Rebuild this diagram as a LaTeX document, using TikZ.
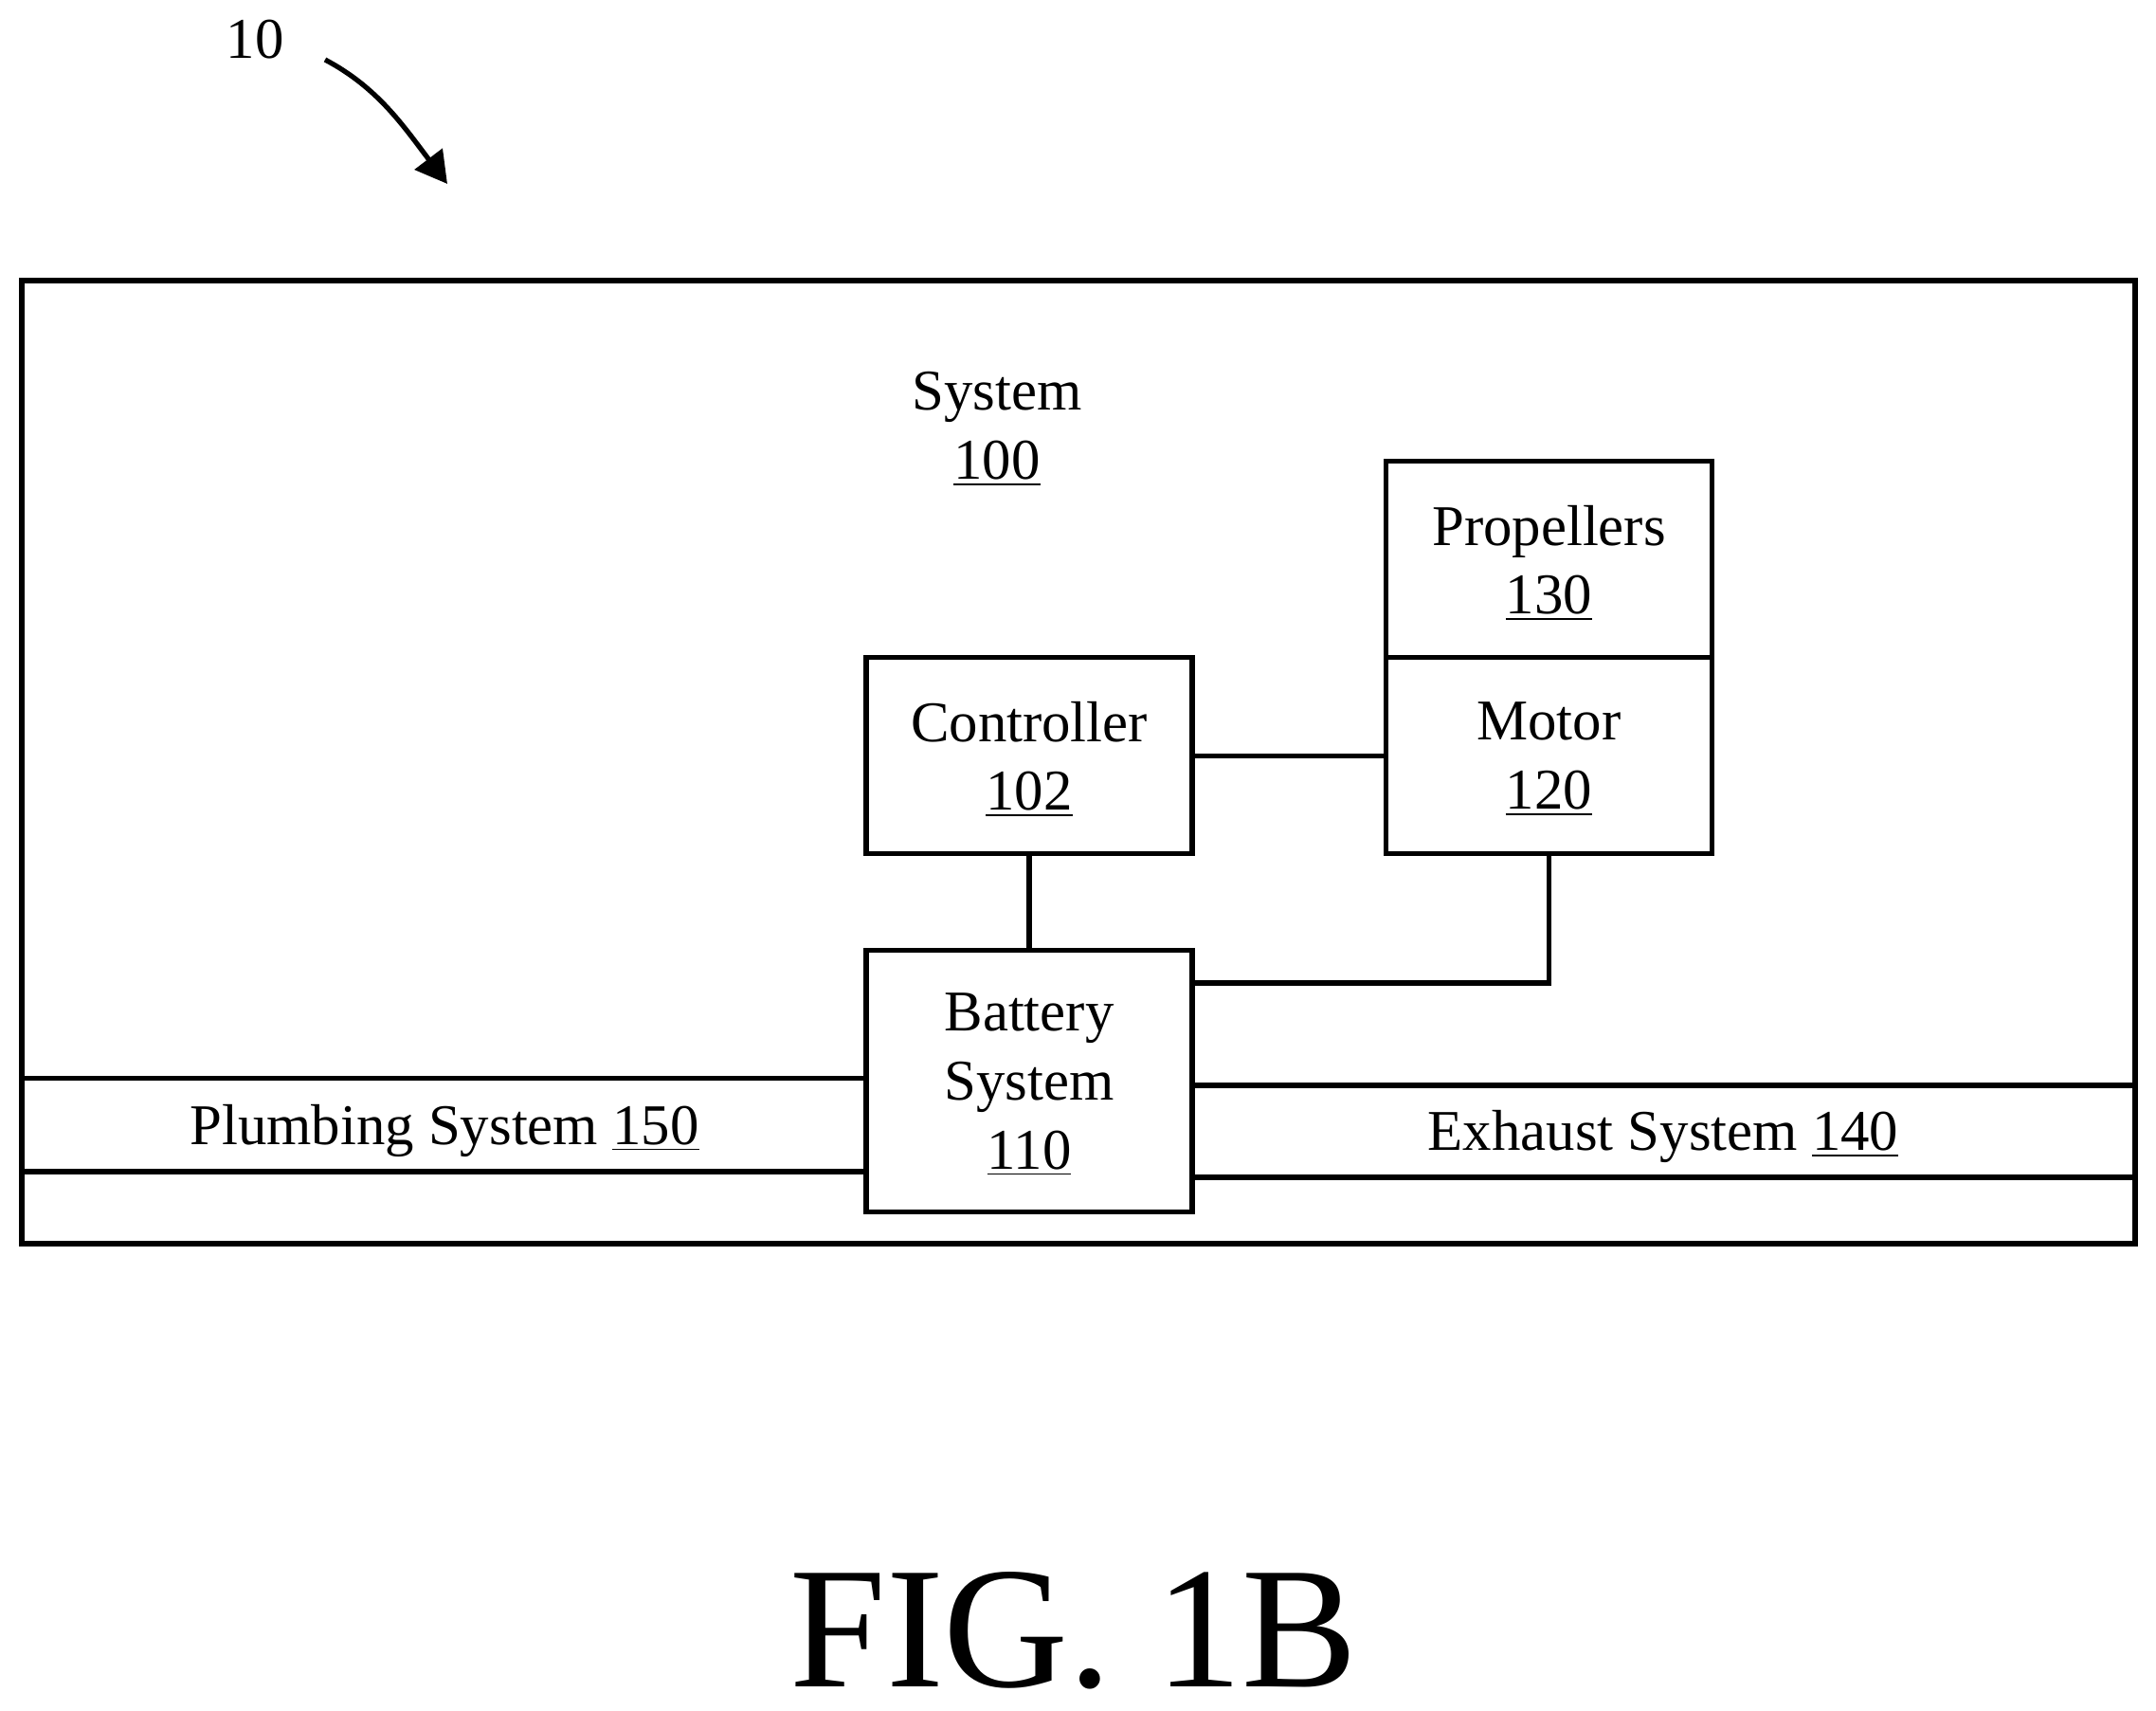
\documentclass[tikz,border=0pt]{standalone}
\usepackage{fontspec}
\setmainfont{Liberation Serif}
\usetikzlibrary{arrows.meta}
\usetikzlibrary{positioning}

\newcommand{\num}[1]{\smash{\underline{#1}}}

\begin{document}
\begin{tikzpicture}[line width=1.5pt,
  box/.style={draw,outer sep=0pt,inner sep=0pt,minimum width=3.44cm,minimum height=2.07cm,
    align=center,font=\fontsize{17.3}{20.65}\selectfont},
  lbl/.style={inner sep=0pt,align=center,font=\fontsize{17.3}{20.65}\selectfont}]

  \useasboundingbox (0,0) rectangle (22.75,18.04);

  % outer frame
  \node[draw,outer sep=0pt,minimum width=22.30cm,minimum height=10.16cm] (frame) at (11.38,10.0) {};
  \node[lbl] (system) at (10.52,13.55) {System\\\num{100}};

  % boxes
  \node[box] (motor) at (16.345,10.067) {Motor\\\num{120}};
  \node[box,above=0pt of motor] (propellers) {Propellers\\\num{130}};
  \node[box,left=2.045cm of motor] (controller) {Controller\\\num{102}};
  \node[box,below=1.02cm of controller,minimum height=2.755cm] (battery) {Battery\\System\\\num{110}};

  % links
  \coordinate (battout) at (battery.east |- 0,7.67);
  \draw (controller) -- (motor);
  \draw (controller) -- (battery);
  \draw (motor.south) |- (battout);

  % plumbing
  \coordinate (plumbtop) at (frame.west |- 0,6.665);
  \coordinate (plumbbot) at (frame.west |- 0,5.68);
  \draw (plumbtop) -- (plumbtop -| battery.west);
  \draw (plumbbot) -- (plumbbot -| battery.west);
  \node[lbl] (plumbing) at (4.69,6.115) {Plumbing System \num{150}};

  % exhaust
  \coordinate (exhtop) at (frame.east |- 0,6.59);
  \coordinate (exhbot) at (frame.east |- 0,5.62);
  \draw (exhtop) -- (exhtop -| battery.east);
  \draw (exhbot) -- (exhbot -| battery.east);
  \node[lbl] (exhaust) at (17.55,6.05) {Exhaust System \num{140}};

  % reference numeral
  \node[lbl] (ref) at (2.69,17.62) {10};
  \coordinate (refstart) at (3.43,17.41);
  \coordinate (refend) at (4.72,16.10);
  \draw[-{Triangle[length=.33cm,width=.36cm]}] (refstart)
    .. controls (3.98,17.12) and (4.25,16.72) .. (refend);

  \node[inner sep=0pt,anchor=base,font=\fontsize{52}{60}\selectfont] (fig) at (11.33,.25) {FIG. 1B};
\end{tikzpicture}
\end{document}
